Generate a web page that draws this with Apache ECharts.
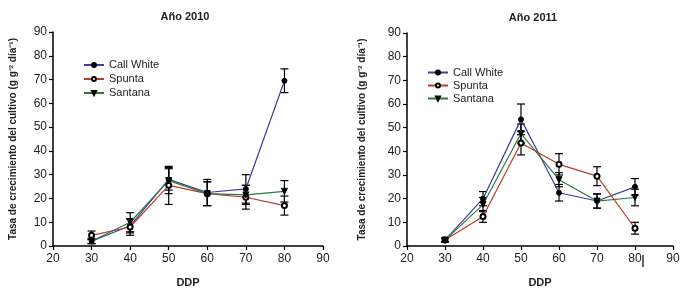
<!DOCTYPE html>
<html>
<head>
<meta charset="utf-8">
<script src="https://cdn.jsdelivr.net/npm/echarts@6/dist/echarts.min.js"></script>
<style>
  html, body { margin: 0; padding: 0; background: #fff; }
  #chart { width: 683px; height: 289px; }
</style>
</head>
<body>
<div id="chart"></div>
<script>
// DDP (días después de plantación)
const ddp = [30, 40, 50, 60, 70, 80];
const seriesNames = ['Call White', 'Spunta', 'Santana'];

// Año 2010
const callWhite2010 = [2, 8.5, 28, 22.5, 24, 69.5];
const callWhite2010Err = [1, 3, 4.5, 5.5, 6, 5];
const spunta2010 = [4.5, 8, 25.5, 22, 20.5, 17];
const spunta2010Err = [1.8, 3.5, 8, 5, 5, 4];
const santana2010 = [2, 10, 27.5, 22, 21.5, 23];
const santana2010Err = [1, 4, 5.5, 5, 4, 4.5];

// Año 2011
const callWhite2011 = [2.5, 20, 53.5, 22.5, 19, 25];
const callWhite2011Err = [0.8, 3, 6.5, 3.5, 3, 3.5];
const spunta2011 = [2.5, 12.5, 43.5, 34.5, 29.5, 7.5];
const spunta2011Err = [0.8, 2.5, 5, 4.5, 4, 2.5];
const santana2011 = [2.5, 17.5, 47.5, 28, 19, 20.5];
const santana2011Err = [0.8, 3, 4, 3, 3, 3.5];

const xTicks = [20, 30, 40, 50, 60, 70, 80, 90];
const yTicks = [0, 10, 20, 30, 40, 50, 60, 70, 80, 90];

const font = '"Liberation Sans", Arial, sans-serif';
const yName = 'Tasa de crecimiento del cultivo (g g\u207B\u00B2 día\u207B\u00B9)';

const styles = {
  'Call White': { line: '#3c3c9c', symbol: 'circle', size: 5, rotate: 0 },
  'Spunta': { line: '#c0392b', symbol: 'emptyCircle', size: 5, rotate: 0 },
  'Santana': { line: '#2f7a3a', symbol: 'triangle', size: 6, rotate: 180 }
};

function lineSeries(name, values, idx) {
  const s = styles[name];
  return {
    name: name,
    type: 'line',
    xAxisIndex: idx,
    yAxisIndex: idx,
    data: ddp.map((d, i) => [d, values[i]]),
    symbol: s.symbol,
    symbolSize: s.size,
    symbolRotate: s.rotate,
    itemStyle: { color: '#000', borderColor: '#000', borderWidth: 1 },
    lineStyle: { color: s.line, width: 1.2 },
    z: 3
  };
}

// barras de error
function errSeries(values, errs, idx) {
  return {
    type: 'custom',
    xAxisIndex: idx,
    yAxisIndex: idx,
    data: ddp.map((d, i) => [d, values[i] - errs[i], values[i] + errs[i]]),
    renderItem: function (params, api) {
      const lo = api.coord([api.value(0), api.value(1)]);
      const hi = api.coord([api.value(0), api.value(2)]);
      const w = 4;
      const st = { stroke: '#000', lineWidth: 1.2 };
      return {
        type: 'group',
        children: [
          { type: 'line', shape: { x1: lo[0], y1: lo[1], x2: hi[0], y2: hi[1] }, style: st },
          { type: 'line', shape: { x1: lo[0] - w, y1: lo[1], x2: lo[0] + w, y2: lo[1] }, style: st },
          { type: 'line', shape: { x1: hi[0] - w, y1: hi[1], x2: hi[0] + w, y2: hi[1] }, style: st }
        ]
      };
    },
    z: 2,
    silent: true
  };
}

function xAxis(idx, gap) {
  return {
    type: 'value', gridIndex: idx,
    min: xTicks[0], max: xTicks[xTicks.length - 1], interval: 10,
    name: 'DDP', nameLocation: 'middle', nameGap: gap,
    nameTextStyle: { fontFamily: font, fontSize: 11, fontWeight: 'bold', color: '#222' },
    axisLine: { lineStyle: { color: '#000', width: 1.5 } },
    axisTick: { show: true, inside: false, length: 4, lineStyle: { color: '#000', width: 1.2 } },
    axisLabel: { fontFamily: font, fontSize: 12, color: '#222', margin: 7 },
    splitLine: { show: false }
  };
}

function yAxis(idx, gap) {
  return {
    type: 'value', gridIndex: idx,
    min: yTicks[0], max: yTicks[yTicks.length - 1], interval: 10,
    name: yName, nameLocation: 'middle', nameGap: gap, nameRotate: 90,
    nameTextStyle: { fontFamily: font, fontSize: 10, fontWeight: 'bold', color: '#222' },
    axisLine: { show: true, lineStyle: { color: '#000', width: 1.5 } },
    axisTick: { show: true, inside: false, length: 4, lineStyle: { color: '#000', width: 1.2 } },
    axisLabel: { fontFamily: font, fontSize: 12, color: '#222', margin: 6 },
    splitLine: { show: false }
  };
}

function legend(left, top, lh) {
  return {
    data: seriesNames,
    orient: 'vertical',
    left: left, top: top,
    itemWidth: 20, itemHeight: 5, itemGap: 0,
    textStyle: { fontFamily: font, fontSize: 11, color: '#222', lineHeight: lh },
    selectedMode: false
  };
}

const chart = echarts.init(document.getElementById('chart'), null, { renderer: 'canvas' });

const option = {
  backgroundColor: '#fff',
  animation: false,
  title: [
    { text: 'Año 2010', left: 180, top: 6, textAlign: 'center',
      textStyle: { fontFamily: font, fontSize: 11, fontWeight: 'bold', color: '#222' } },
    { text: 'Año 2011', left: 528, top: 7, textAlign: 'center',
      textStyle: { fontFamily: font, fontSize: 11, fontWeight: 'bold', color: '#222' } }
  ],
  legend: [legend(78, 53, 14), legend(422, 61, 13)],
  grid: [
    { left: 53, top: 32, width: 270, height: 214, outerBoundsMode: 'none', containLabel: false },
    { left: 407, top: 33, width: 266, height: 213, outerBoundsMode: 'none', containLabel: false }
  ],
  xAxis: [xAxis(0, 31), xAxis(1, 31)],
  yAxis: [yAxis(0, 35), yAxis(1, 40)],
  series: [
    lineSeries('Call White', callWhite2010, 0),
    lineSeries('Spunta', spunta2010, 0),
    lineSeries('Santana', santana2010, 0),
    errSeries(callWhite2010, callWhite2010Err, 0),
    errSeries(spunta2010, spunta2010Err, 0),
    errSeries(santana2010, santana2010Err, 0),
    lineSeries('Call White', callWhite2011, 1),
    lineSeries('Spunta', spunta2011, 1),
    lineSeries('Santana', santana2011, 1),
    errSeries(callWhite2011, callWhite2011Err, 1),
    errSeries(spunta2011, spunta2011Err, 1),
    errSeries(santana2011, santana2011Err, 1)
  ],
  graphic: [
    // marca vertical junto a la etiqueta 80 del segundo gráfico
    { type: 'line', shape: { x1: 643, y1: 255, x2: 643, y2: 267 }, style: { stroke: '#000', lineWidth: 1.2 } }
  ]
};

chart.setOption(option);
</script>
</body>
</html>
